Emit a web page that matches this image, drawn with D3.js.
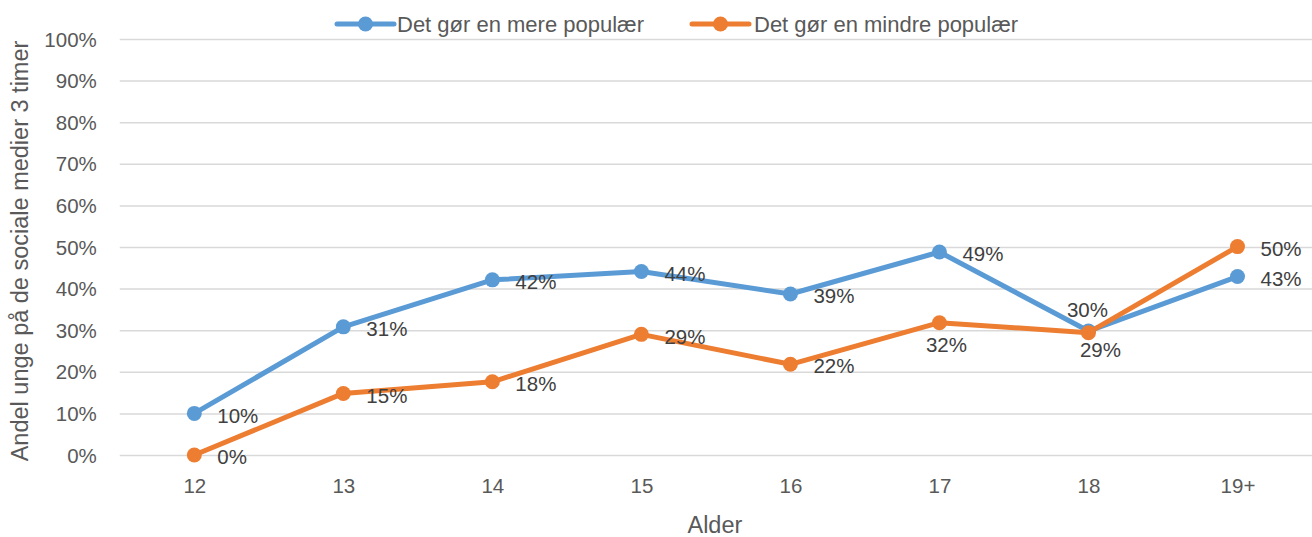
<!DOCTYPE html>
<html>
<head>
<meta charset="utf-8">
<script src="https://cdn.jsdelivr.net/npm/d3@7"></script>
<style>
  body { margin: 0; background: #fff; }
  text { font-family: "Liberation Sans", Arial, sans-serif; }
</style>
</head>
<body>
<div id="chart"></div>
<script>
/** categories and values (percent) */
var ages = ["12", "13", "14", "15", "16", "17", "18", "19+"];
var moreValues = [10.0, 30.8, 42.1, 44.1, 38.7, 48.8, 29.8, 42.9];
var lessValues = [0.0, 14.8, 17.6, 29.0, 21.8, 31.8, 29.4, 50.1];
var yTicks = [0, 10, 20, 30, 40, 50, 60, 70, 80, 90, 100];
var seriesNames = ["Det gør en mere populær", "Det gør en mindre populær"];

/** size of the drawing */
var width = 1312, height = 537;
var plot = {left: 119.8, right: 1312, top: 39, bottom: 455};

var blue = "#5b9bd5", orange = "#ed7d31";

var svg = d3.select("#chart")
  .append("svg")
    .attr("width", width)
    .attr("height", height);

/** horizontal axis: one point per age group, centred in its band */
var x = d3.scalePoint()
  .domain(ages)
  .range([plot.left, plot.right])
  .padding(0.5);

/** vertical axis */
var y = d3.scaleLinear()
  .domain([0, 100])
  .range([plot.bottom, plot.top]);

/** gridlines + tick labels */
var yAxis = svg.append("g")
  .attr("transform", "translate(" + plot.left + ",0)")
  .call(d3.axisLeft(y)
    .tickValues(yTicks)
    .tickSize(-(plot.right - plot.left))
    .tickPadding(23)
    .tickFormat(function(d) { return d + "%"; }));
yAxis.select(".domain").remove();
yAxis.selectAll(".tick line")
  .attr("stroke", "#d9d9d9")
  .attr("stroke-width", 1.5);
yAxis.selectAll(".tick text")
  .attr("fill", "#595959")
  .style("font-size", "20.5px")
  .attr("dy", "0.35em");

var xAxis = svg.append("g")
  .attr("transform", "translate(0," + plot.bottom + ")")
  .call(d3.axisBottom(x).tickSize(0).tickPadding(23));
xAxis.select(".domain").remove();
xAxis.selectAll(".tick text")
  .attr("fill", "#595959")
  .style("font-size", "20.5px");

/** axis titles */
svg.append("text")
  .attr("x", (plot.left + plot.right) / 2 - 1)
  .attr("y", 533)
  .attr("text-anchor", "middle")
  .attr("fill", "#595959")
  .style("font-size", "23.5px")
  .text("Alder");

svg.append("text")
  .attr("transform", "translate(28," + 251 + ") rotate(-90)")
  .attr("text-anchor", "middle")
  .attr("fill", "#595959")
  .style("font-size", "23.5px")
  .text("Andel unge på de sociale medier 3 timer");

/** label placement per point */
var placeMore = ["r", "r", "r", "r", "r", "r", "up", "r"];
var placeLess = ["r", "r", "r", "r", "r", "down", "down2", "r"];

var series = [
  {name: seriesNames[0], values: moreValues, colour: blue, place: placeMore},
  {name: seriesNames[1], values: lessValues, colour: orange, place: placeLess}
];

var line = d3.line()
  .x(function(d, i) { return x(ages[i]); })
  .y(function(d) { return y(d); });

series.forEach(function(s) {
  var g = svg.append("g");
  g.append("path")
    .datum(s.values)
    .attr("d", line)
    .attr("fill", "none")
    .attr("stroke", s.colour)
    .attr("stroke-width", 5)
    .attr("stroke-linejoin", "round")
    .attr("stroke-linecap", "round");
  g.selectAll("circle")
    .data(s.values)
    .enter()
    .append("circle")
      .attr("cx", function(d, i) { return x(ages[i]); })
      .attr("cy", function(d) { return y(d); })
      .attr("r", 7.5)
      .attr("fill", s.colour);
});

/** data labels drawn on top of both lines */
series.forEach(function(s) {
  svg.append("g").selectAll("text")
    .data(s.values)
    .enter()
    .append("text")
      .attr("x", function(d, i) {
        var p = s.place[i], cx = x(ages[i]);
        if (p === "up") return cx - 1;
        if (p === "down") return cx + 7;
        if (p === "down2") return cx + 12;
        return cx + 23;
      })
      .attr("y", function(d, i) {
        var p = s.place[i], cy = y(d);
        if (p === "up") return cy - 21;
        if (p === "down") return cy + 22;
        if (p === "down2") return cy + 17;
        return cy + 2;
      })
      .attr("dy", "0.35em")
      .attr("text-anchor", function(d, i) { return s.place[i] === "r" ? "start" : "middle"; })
      .attr("fill", "#404040")
      .style("font-size", "20.5px")
      .text(function(d) { return Math.round(d) + "%"; });
});

/** legend */
var legendPos = [{x0: 337, x1: 394, text: 397}, {x0: 692, x1: 749, text: 754}];
var legend = svg.append("g").attr("transform", "translate(0,24)");
series.forEach(function(s, i) {
  var p = legendPos[i];
  legend.append("line")
    .attr("x1", p.x0).attr("x2", p.x1)
    .attr("stroke", s.colour)
    .attr("stroke-width", 5)
    .attr("stroke-linecap", "round");
  legend.append("circle")
    .attr("cx", (p.x0 + p.x1) / 2)
    .attr("r", 7.5)
    .attr("fill", s.colour);
  legend.append("text")
    .attr("x", p.text)
    .attr("dy", "0.35em")
    .attr("fill", "#595959")
    .style("font-size", "22px")
    .text(s.name);
});
</script>
</body>
</html>
